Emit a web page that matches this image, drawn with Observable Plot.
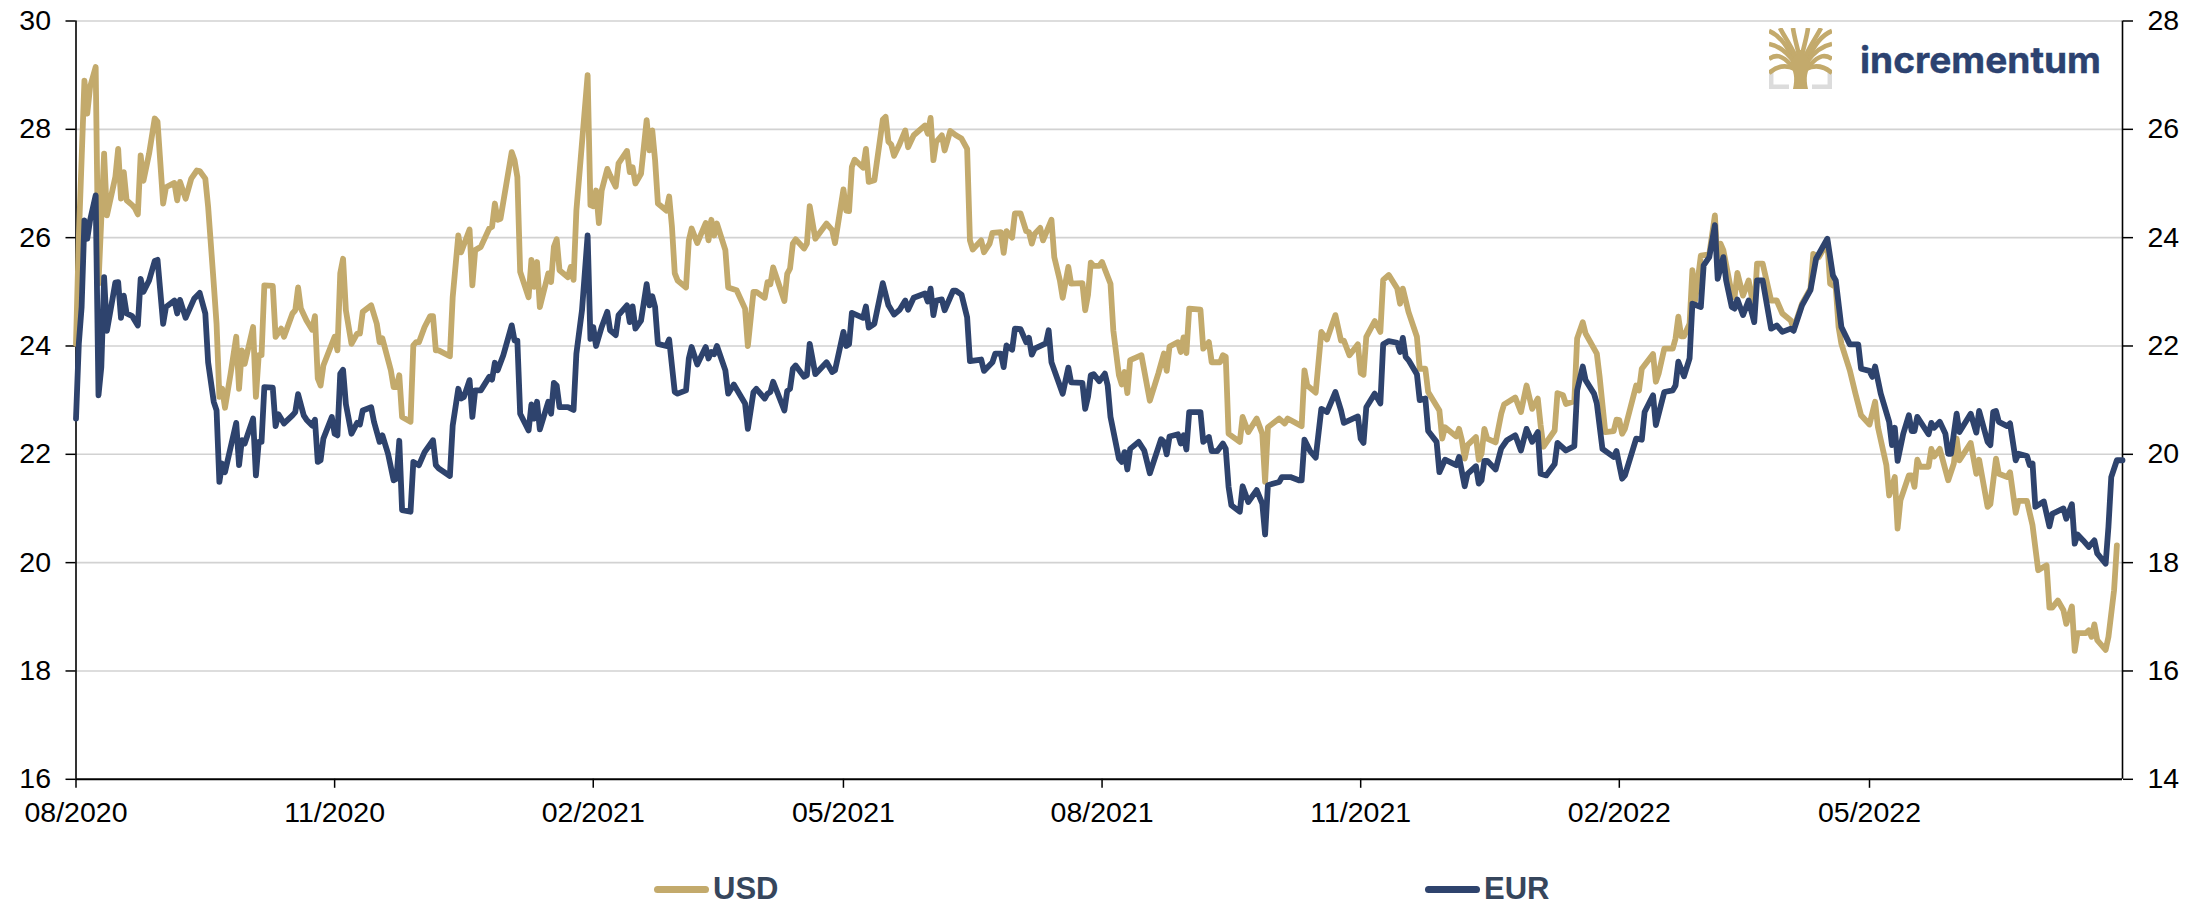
<!DOCTYPE html>
<html>
<head>
<meta charset="utf-8">
<script src="https://cdn.jsdelivr.net/npm/d3@7"></script>
<script src="https://cdn.jsdelivr.net/npm/@observablehq/plot@0.6"></script>
<style>
html,body{margin:0;padding:0;background:#fff;overflow:hidden;width:2209px;height:905px}
#wrap{position:relative;width:2209px;height:905px}
#logo{position:absolute;left:1769px;top:28px}
#logotext{position:absolute;left:1840px;top:20px}
.sw{position:absolute;top:885.5px;height:7px;border-radius:3.5px}
.lb{position:absolute;top:871px;font:bold 31px/36px "Liberation Sans",Arial,sans-serif;color:#36465c}
</style>
</head>
<body>
<div id="wrap">
<div id="chart"></div>
<svg id="logo" width="63" height="61" viewBox="0 0 63 61">
  <g fill="none" stroke="#dcdcdc" stroke-width="4.5">
    <path d="M2.2 44V58.8H20"/><path d="M60.8 44V58.8H43"/>
  </g>
  <g fill="none" stroke="#c3aa6c" stroke-width="4.6" stroke-linecap="butt">
    <path d="M0 3C10 7 17 15 24 31"/>
    <path d="M0 16C10 18 18 24 25 34"/>
    <path d="M0 31C7 26 13 27 22 37"/>
    <path d="M0 45C8 38 16 36 26 41"/>
    <path d="M11 0C15 8 21 16 27 29"/>
    <path d="M24 0C25 8 27 14 30 27"/>
    <path d="M63 3C53 7 46 15 39 31"/>
    <path d="M63 16C53 18 45 24 38 34"/>
    <path d="M63 31C56 26 50 27 41 37"/>
    <path d="M63 45C55 38 47 36 37 41"/>
    <path d="M52 0C48 8 42 16 36 29"/>
    <path d="M39 0C38 8 36 14 33 27"/>
  </g>
  <path fill="#c3aa6c" d="M24 61C26.5 50 25 42 20 36L30 22H33L43 36C38 42 36.5 50 39 61Z"/>
</svg>
<svg id="logotext" width="280" height="70">
  <text x="20" y="52.5" font-family="Inter,'Liberation Sans',sans-serif" font-weight="700" font-size="36" fill="#2c4270" stroke="#2c4270" stroke-width="0.4" textLength="241" lengthAdjust="spacingAndGlyphs">incrementum</text>
</svg>
<div class="sw" style="left:654px;width:55px;background:#c3aa6c"></div>
<div class="lb" style="left:713px">USD</div>
<div class="sw" style="left:1425px;width:55px;background:#2e436d"></div>
<div class="lb" style="left:1484px">EUR</div>
</div>
<script>
// Axis labels and domains
const startDate = "2020-08-01";
const endDate = "2022-07-30";
const xTickDates = ["2020-08-01","2020-11-01","2021-02-01","2021-05-01","2021-08-01","2021-11-01","2022-02-01","2022-05-01"];
const yTicksLeft = [16,18,20,22,24,26,28,30];
const gridValues = [18,20,22,24,26,28,30];
const axisOffset = 2; // right axis (EUR) reads 2 lower than the left axis (USD)

// [days since start, value]
const usd = [[0,24.04],[1,26.0],[3,28.9],[4,28.29],[5,28.78],[7,29.15],[8,25.15],[10,27.55],[11,26.41],[14,27.12],[15,27.64],[16,26.72],[17,27.21],[18,26.69],[20,26.6],[21,26.54],[22,26.43],[23,27.52],[24,27.05],[26,27.55],[28,28.2],[29,28.14],[31,26.63],[32,26.93],[35,27.01],[36,26.69],[37,27.03],[39,26.72],[41,27.09],[43,27.24],[44,27.23],[46,27.09],[47,26.57],[49,25.15],[50,24.41],[51,23.06],[52,23.21],[53,22.86],[55,23.49],[57,24.17],[58,23.21],[59,23.92],[60,23.67],[63,24.35],[64,23.06],[65,23.83],[66,23.83],[67,25.12],[70,25.11],[71,24.17],[73,24.32],[74,24.17],[77,24.6],[78,24.66],[79,25.08],[80,24.69],[82,24.47],[84,24.3],[85,24.55],[86,23.4],[87,23.27],[88,23.64],[92,24.17],[93,23.92],[94,25.34],[95,25.61],[96,24.66],[98,24.04],[100,24.23],[101,24.23],[102,24.63],[105,24.75],[107,24.41],[108,24.07],[109,24.14],[112,23.55],[113,23.24],[114,23.24],[115,23.46],[116,22.69],[119,22.6],[120,24.01],[121,24.07],[122,24.07],[124,24.35],[126,24.55],[127,24.55],[128,23.92],[129,23.92],[133,23.81],[134,24.9],[136,26.04],[137,25.73],[140,26.15],[141,25.12],[142,25.77],[144,25.83],
[147,26.17],[148,26.2],[149,26.63],[150,26.33],[151,26.35],[155,27.58],[156,27.43],[157,27.12],[158,25.37],[161,24.9],[162,25.59],[163,25.09],[164,25.55],[165,24.72],[168,25.34],[169,25.18],[170,25.83],[171,25.97],[172,25.4],[175,25.27],[176,25.46],[177,25.22],[178,26.5],[182,29.0],[183,26.6],[184,26.58],[185,26.87],[186,26.27],[187,26.87],[189,27.27],[190,27.15],[192,26.94],[193,27.37],[196,27.6],[197,27.21],[198,27.3],[199,27.0],[201,27.18],[203,28.17],[204,27.61],[205,27.98],[206,27.43],[207,26.63],[210,26.5],[211,26.76],[212,26.2],[213,25.34],[214,25.21],[217,25.08],[218,25.95],[219,26.17],[221,25.9],[224,26.27],[225,25.95],[226,26.33],[227,26.04],[228,26.26],[231,25.77],[232,25.08],[235,25.03],[238,24.69],[239,24.0],[241,25.0],[242,25.0],[245,24.89],[246,25.18],[247,25.14],[248,25.45],[252,24.83],[253,25.33],[254,25.43],[255,25.89],[256,25.97],[259,25.8],[260,25.89],[261,26.58],[263,25.98],[267,26.26],[269,26.14],[270,25.9],[273,26.89],[274,26.5],[275,26.49],[276,27.31],[277,27.44],[280,27.29],[281,27.64],[282,27.03],[284,27.06],[287,28.18],[288,28.23],[289,27.77],[290,27.72],[291,27.51],
[293,27.73],[295,27.98],[296,27.67],[298,27.89],[302,28.07],[303,27.92],[304,28.21],[305,27.43],[306,27.77],[308,27.89],[309,27.61],[311,27.97],[313,27.89],[315,27.83],[317,27.64],[318,25.95],[319,25.78],[322,25.95],[323,25.73],[325,25.89],[326,26.09],[329,26.1],[330,25.72],[331,26.12],[333,26.0],[334,26.45],[336,26.45],[338,26.12],[339,26.1],[340,25.89],[341,26.07],[343,26.18],[344,25.95],[347,26.33],[348,25.64],[350,25.21],[351,24.89],[353,25.46],[354,25.15],[358,25.16],[359,24.66],[360,24.94],[361,25.54],[362,25.48],[364,25.48],[365,25.55],[368,25.15],[369,24.29],[371,23.46],[372,23.29],[373,23.52],[374,23.13],[375,23.74],[379,23.83],[382,22.99],[385,23.49],[387,23.86],[388,23.54],[389,23.99],[392,24.07],[393,23.89],[394,24.16],[395,23.87],[396,24.69],[400,24.67],[401,23.95],[403,24.07],[404,23.7],[407,23.7],[408,23.83],[409,23.8],[410,22.38],[414,22.23],[415,22.69],[417,22.41],[420,22.66],[422,22.38],[423,21.49],[424,22.5],[428,22.66],[430,22.57],[431,22.66],[436,22.52],
[437,23.55],[438,23.27],[441,23.14],[443,24.26],[445,24.12],[448,24.57],[450,24.1],[451,24.1],[453,23.83],[456,24.03],[457,23.5],[458,23.47],[459,24.17],[462,24.46],[464,24.26],[465,25.22],[467,25.31],[470,25.06],[471,24.78],[472,25.06],[474,24.63],[477,24.17],[478,23.58],[480,23.58],[481,23.15],[485,22.81],[486,22.29],[487,22.5],[491,22.33],[492,22.47],[493,22.26],[494,21.92],[495,22.17],[498,22.32],[499,21.9],[500,22.01],[501,22.47],[502,22.29],[505,22.22],[507,22.75],[508,22.92],[512,23.05],[514,22.78],[516,23.27],[518,22.84],[520,23.03],[521,22.54],[522,22.14],[526,22.44],[527,23.13],[529,23.09],[530,22.93],[533,22.98],[534,24.14],[536,24.44],[537,24.23],[541,23.86],[542,23.43],[544,22.41],[547,22.43],[548,22.64],[549,22.63],[550,22.38],[551,22.47],[555,23.27],[556,23.18],[557,23.58],[561,23.85],[562,23.34],[563,23.49],[565,23.95],[568,23.95],[569,24.14],[570,24.54],[571,24.18],[572,24.18],[574,24.41],[575,25.4],[576,24.84],[578,25.67],[581,25.69],
[583,26.41],[584,25.46],[585,25.89],[586,25.77],[589,24.97],[590,24.9],[591,25.35],[593,24.93],[595,25.21],[597,24.66],[598,25.52],[600,25.52],[603,24.84],[605,24.84],[607,24.6],[610,24.47],[611,24.32],[614,24.78],[617,25.06],[618,25.7],[620,25.64],[623,25.92],[624,25.15],[626,25.09],[627,24.35],[628,24.04],[631,23.55],[633,23.12],[635,22.72],[638,22.55],[640,22.97],[641,22.5],[644,21.8],[645,21.24],[647,21.58],[648,20.63],[649,21.15],[652,21.61],[653,21.61],[654,21.4],[655,21.9],[656,21.77],[659,21.77],[660,22.1],[661,21.96],[663,22.1],[666,21.52],[668,21.83],[669,22.29],[670,21.89],[674,22.21],[676,21.64],[677,21.9],[680,21.03],[681,21.08],[683,21.92],[684,21.64],[687,21.58],[688,21.67],[690,20.92],[691,21.14],[694,21.14],[696,20.69],[698,19.86],[699,19.89],[701,19.95],[702,19.17],[703,19.17],[705,19.3],[707,19.12],[708,18.87],[710,19.19],[711,18.37],[712,18.7],[715,18.7],[716,18.75],[717,18.63],[718,18.86],[719,18.57],[722,18.39],[723,18.63],[725,19.49],[726,20.32]];

const eur = [[0,20.66],[1,22.04],[2,22.72],[3,24.32],[4,23.98],[5,24.32],[7,24.78],[8,21.09],[9,21.61],[10,23.27],[11,22.28],[13,22.87],[14,23.17],[15,23.18],[16,22.52],[17,22.93],[18,22.6],[20,22.55],[22,22.38],[23,23.24],[24,23.0],[26,23.21],[28,23.57],[29,23.59],[31,22.41],[32,22.72],[35,22.84],[36,22.6],[37,22.85],[39,22.52],[42,22.87],[44,22.98],[46,22.6],[47,21.7],[49,20.97],[50,20.81],[51,19.49],[52,19.83],[53,19.67],[55,20.13],[57,20.58],[58,19.8],[59,20.26],[60,20.2],[63,20.66],[64,19.61],[65,20.23],[66,20.23],[67,21.24],[70,21.23],[71,20.52],[72,20.74],[74,20.57],[77,20.72],[78,20.78],[79,21.11],[81,20.72],[82,20.64],[84,20.53],[85,20.64],[86,19.86],[87,19.89],[88,20.29],[91,20.69],[92,20.38],[93,20.35],[94,21.49],[95,21.56],[96,20.93],[98,20.38],[100,20.58],[101,20.55],[102,20.81],[105,20.87],[106,20.6],[108,20.23],[109,20.35],[111,20.01],[113,19.52],[114,19.55],[115,20.25],[116,18.97],[119,18.94],[120,19.86],[122,19.8],[124,20.04],[127,20.26],[128,19.8],[129,19.74],[133,19.6],[134,20.53],[136,21.21],[137,21.03],[138,21.06],[140,21.37],[141,20.69],[142,21.18],[144,21.18],
[147,21.43],[148,21.38],[149,21.69],[150,21.55],[152,21.83],[155,22.38],[156,22.1],[157,22.1],[158,20.75],[161,20.44],[162,20.92],[163,20.66],[164,20.97],[165,20.46],[168,20.97],[169,20.75],[170,21.32],[171,21.27],[172,20.87],[175,20.87],[177,20.82],[178,21.86],[180,22.66],[182,24.04],[183,22.13],[184,22.35],[185,22.0],[187,22.35],[189,22.63],[190,22.29],[192,22.2],[193,22.57],[196,22.75],[197,22.44],[198,22.73],[199,22.32],[201,22.47],[203,23.14],[204,22.75],[205,22.92],[206,22.72],[207,22.04],[210,22.0],[211,22.12],[213,21.15],[214,21.12],[217,21.18],[218,21.77],[219,21.98],[221,21.66],[224,21.98],[225,21.77],[226,21.89],[227,21.85],[228,22.0],[231,21.55],[232,21.12],[234,21.29],[238,20.94],[239,20.47],[241,21.15],[242,21.21],[245,21.03],[246,21.12],[247,21.15],[248,21.34],[252,20.81],[253,21.17],[254,21.21],[255,21.58],[256,21.64],[259,21.43],[260,21.46],[261,22.04],[263,21.48],[267,21.7],[269,21.52],[270,21.55],[273,22.26],[274,22.0],[275,22.03],[276,22.61],[280,22.52],[281,22.73],[282,22.34],[284,22.41],[287,23.16],[289,22.75],[291,22.58],
[293,22.67],[295,22.84],[296,22.67],[298,22.89],[302,22.97],[303,22.82],[304,23.06],[305,22.57],[306,22.84],[308,22.86],[309,22.66],[312,23.02],[313,23.02],[315,22.95],[317,22.53],[318,21.72],[322,21.75],[323,21.54],[326,21.7],[327,21.86],[329,21.86],[330,21.61],[331,22.01],[333,21.93],[334,22.32],[336,22.31],[338,22.07],[339,22.15],[340,21.84],[341,21.95],[345,22.05],[346,22.29],[347,21.7],[351,21.12],[353,21.6],[354,21.33],[358,21.32],[359,20.84],[360,21.06],[361,21.46],[362,21.48],[364,21.35],[366,21.49],[367,21.27],[368,20.69],[371,19.92],[372,19.86],[373,20.04],[374,19.72],[375,20.1],[378,20.23],[380,20.07],[382,19.65],[386,20.28],[387,20.23],[388,20.0],[389,20.33],[392,20.37],[393,20.2],[394,20.35],[395,20.09],[396,20.78],[400,20.78],[401,20.23],[403,20.32],[404,20.06],[406,20.06],[408,20.2],[409,20.1],[410,19.4],[411,19.06],[414,18.94],[415,19.41],[417,19.12],[420,19.34],[422,19.09],[423,18.52],[424,19.43],[428,19.49],[429,19.58],[432,19.58],[435,19.52],[436,19.52],
[437,20.27],[439,20.06],[441,19.94],[443,20.84],[445,20.78],[448,21.15],[450,20.81],[451,20.58],[456,20.7],[457,20.29],[458,20.21],[459,20.87],[462,21.12],[464,20.94],[465,22.03],[467,22.09],[470,22.06],[471,21.89],[472,22.15],[473,21.8],[474,21.74],[477,21.48],[478,21.0],[480,21.03],[481,20.43],[484,20.23],[485,19.67],[487,19.9],[491,19.8],[492,19.95],[494,19.41],[495,19.64],[498,19.78],[499,19.46],[500,19.52],[501,19.88],[502,19.88],[505,19.72],[507,20.11],[509,20.26],[512,20.35],[514,20.07],[516,20.47],[518,20.23],[520,20.41],[521,19.64],[523,19.61],[526,19.82],[527,20.21],[530,20.07],[533,20.15],[534,21.18],[536,21.62],[537,21.37],[540,21.12],[541,20.94],[543,20.1],[547,19.95],[548,20.06],[550,19.55],[551,19.61],[555,20.29],[557,20.27],[558,20.78],[561,21.09],[562,20.54],[565,21.15],[568,21.18],[569,21.27],[570,21.71],[572,21.44],[574,21.77],[575,22.78],[578,22.72],[579,23.49],[581,23.64],
[583,24.23],[584,23.24],[586,23.64],[587,23.21],[589,22.72],[590,22.69],[591,22.86],[593,22.57],[595,22.84],[597,22.44],[598,23.21],[600,23.21],[603,22.32],[605,22.38],[607,22.26],[610,22.32],[611,22.28],[614,22.75],[617,23.03],[619,23.61],[623,23.98],[625,23.3],[626,23.21],[628,22.35],[631,22.03],[634,22.03],[635,21.58],[638,21.54],[639,21.43],[640,21.62],[642,21.12],[645,20.6],[646,20.17],[647,20.49],[648,19.88],[650,20.38],[652,20.72],[653,20.43],[654,20.43],[655,20.69],[659,20.37],[660,20.58],[661,20.49],[663,20.6],[665,20.38],[666,20.01],[667,20.01],[669,20.75],[670,20.41],[674,20.75],[676,20.4],[677,20.8],[680,20.23],[681,20.17],[682,20.78],[683,20.8],[684,20.6],[687,20.52],[688,20.57],[690,19.89],[691,20.01],[694,19.97],[695,19.8],[696,19.83],[697,19.03],[700,19.13],[702,18.67],[703,18.9],[707,19.0],[708,18.81],[710,19.08],[711,18.35],[712,18.52],[714,18.41],[716,18.29],[718,18.41],[719,18.17],[722,17.98],[723,18.66],[724,19.58],[726,19.89],[728,19.89]];

const start = new Date(startDate + "T00:00:00Z");
const toDate = day => d3.utcDay.offset(start, day);
const tickFont = {fontFamily: '"Liberation Sans", Arial, sans-serif', fontSize: "28.5px"};

const chart = Plot.plot({
  width: 2209,
  height: 839,
  marginLeft: 75.5,
  marginRight: 87,
  marginTop: 20.5,
  marginBottom: 60.2,
  style: {...tickFont, background: "#fff", color: "#000", overflow: "visible"},
  x: {type: "utc", domain: [start, new Date(endDate + "T00:00:00Z")]},
  y: {domain: [16, 30]},
  marks: [
    Plot.ruleY(gridValues, {stroke: "#d2d2d2", strokeWidth: 1.6}),
    Plot.axisX({
      ticks: xTickDates.map(d => new Date(d + "T00:00:00Z")),
      tickFormat: d3.utcFormat("%m/%Y"),
      tickSize: 9, tickPadding: 13, label: null, stroke: "#000", strokeWidth: 1.5
    }),
    Plot.axisY({
      anchor: "left", ticks: yTicksLeft, tickFormat: d => String(d),
      tickSize: 10, tickPadding: 15, label: null, stroke: "#000", strokeWidth: 1.5
    }),
    Plot.axisY({
      anchor: "right", ticks: yTicksLeft, tickFormat: d => String(d - axisOffset),
      tickSize: 10, tickPadding: 15, label: null, stroke: "#000", strokeWidth: 1.5
    }),
    Plot.ruleX([start], {stroke: "#000", strokeWidth: 1.6}),
    Plot.ruleX([new Date(endDate + "T00:00:00Z")], {stroke: "#000", strokeWidth: 1.6}),
    Plot.ruleY([16], {stroke: "#000", strokeWidth: 2}),
    Plot.line(usd, {x: d => toDate(d[0]), y: d => d[1], stroke: "#c3aa6c", strokeWidth: 5.8, strokeLinejoin: "round", strokeLinecap: "round"}),
    Plot.line(eur, {x: d => toDate(d[0]), y: d => d[1] + axisOffset, stroke: "#2e436d", strokeWidth: 5.8, strokeLinejoin: "round", strokeLinecap: "round"})
  ]
});
document.getElementById("chart").appendChild(chart);
</script>
</body>
</html>
